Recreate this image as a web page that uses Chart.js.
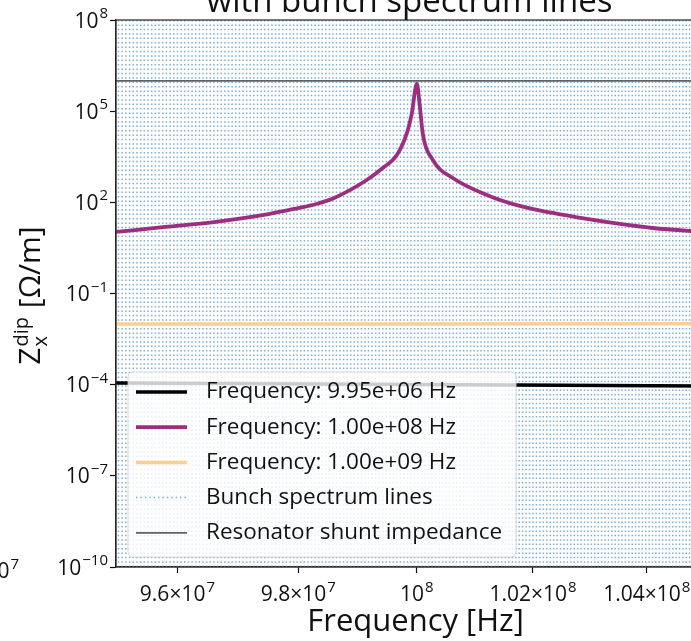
<!DOCTYPE html>
<html>
<head>
<meta charset="utf-8">
<script src="https://cdn.jsdelivr.net/npm/chart.js@4.4.0/dist/chart.umd.min.js"></script>
<style>
  html, body { margin: 0; padding: 0; background: #fff; overflow: hidden; }
  #wrap { position: relative; width: 720px; height: 641px; }
</style>
</head>
<body>
<div id="wrap"><canvas id="chart"></canvas></div>
<script>
// axis limits and ticks
const xMin = 9.5e7;
const xMax = 1.05e8;
const yMin = 1e-10;
const yMax = 1e8;
const xTickValues = [9.6e7, 9.8e7, 1e8, 1.02e8, 1.04e8];
const xTickMantissa = ['9.6×10', '9.8×10', '10', '1.02×10', '1.04×10'];
const xTickExponent = ['7', '7', '8', '8', '8'];
const yTickValues = [1e-10, 1e-7, 1e-4, 1e-1, 1e2, 1e5, 1e8];
const yTickExponent = ['−10', '−7', '−4', '−1', '2', '5', '8'];

// resonator at 9.95e+06 Hz (black)
const lowFreqX = [9.5e7, 9.75e7, 1.0e8, 1.025e8, 1.05e8];
const lowFreqZ = [1.13e-4, 1.07e-4, 1.01e-4, 9.5e-5, 9.0e-5];

// resonator at 1.00e+08 Hz (magenta)
const midFreqX = [9.50e7, 9.58e7, 9.66e7, 9.75e7, 9.80e7, 9.83e7, 9.86e7, 9.915e7, 9.942e7, 9.966e7,
  9.983e7, 9.9915e7, 1.0e8, 1.0005e8, 1.001e8, 1.00273e8, 1.00615e8, 1.012e8, 1.0177e8, 1.02345e8,
  1.0294e8, 1.0352e8, 1.041e8, 1.0478e8, 1.05e8];
const midFreqZ = [10.6, 15.5, 22.5, 41, 65, 88, 139, 543, 1350, 3600,
  19000, 87000, 800000, 150000, 19000, 2470, 632, 175, 76, 44.6,
  28.3, 19.4, 14.3, 11.4, 10.8];

// resonator at 1.00e+09 Hz (light orange)
const highFreqX = [9.5e7, 1.0e8, 1.05e8];
const highFreqZ = [9.9e-3, 1.0e-2, 1.02e-2];

// shunt impedance level
const shuntX = [xMin, xMax];
const shuntZ = [1e6, 1e6];

// bunch spectrum comb spacing [Hz]
const bunchSpacing = 6.0e4;
const bunchColor = '#7fafd2';

const fontFamily = '"Open Sans", "Noto Sans", sans-serif';
const textColor = '#111';

function pts(xs, ys) {
  return xs.map((x, i) => ({ x: x, y: ys[i] }));
}

// draws base + raised exponent, like 10^8
function drawPow(ctx, base, exp, x, y, align, size) {
  const bigF = size + 'px ' + fontFamily;
  const smallF = Math.round(size * 0.72) + 'px ' + fontFamily;
  ctx.font = bigF;
  const wb = ctx.measureText(base).width;
  ctx.font = smallF;
  const we = ctx.measureText(exp).width;
  const total = wb + we + 1;
  let x0 = x;
  if (align === 'right') x0 = x - total;
  if (align === 'center') x0 = x - total / 2;
  ctx.textAlign = 'left';
  ctx.textBaseline = 'alphabetic';
  ctx.font = bigF;
  ctx.fillText(base, x0, y);
  ctx.font = smallF;
  ctx.fillText(exp, x0 + wb + 1, y - size * 0.45);
}

const bunchLines = {
  id: 'bunchLines',
  beforeDatasetsDraw(chart) {
    const { ctx, chartArea } = chart;
    const xs = chart.scales.x;
    ctx.save();
    ctx.beginPath();
    ctx.rect(chartArea.left, chartArea.top, chartArea.right - chartArea.left, chartArea.bottom - chartArea.top);
    ctx.clip();
    ctx.strokeStyle = bunchColor;
    ctx.lineWidth = 1.5;
    ctx.setLineDash([1.5, 2.9]);
    for (let n = Math.ceil(xMin / bunchSpacing); n * bunchSpacing <= xMax; n++) {
      const px = xs.getPixelForValue(n * bunchSpacing);
      ctx.beginPath();
      ctx.moveTo(px, chartArea.top);
      ctx.lineTo(px, chartArea.bottom);
      ctx.stroke();
    }
    ctx.restore();
  }
};

const decorations = {
  id: 'decorations',
  afterDraw(chart) {
    const { ctx, chartArea } = chart;
    const xs = chart.scales.x, ys = chart.scales.y;
    ctx.save();
    // frame
    ctx.strokeStyle = '#333';
    ctx.lineWidth = 1.3;
    ctx.strokeRect(chartArea.left, chartArea.top, chartArea.right - chartArea.left, chartArea.bottom - chartArea.top);

    ctx.fillStyle = textColor;
    // tick labels
    yTickValues.forEach((v, i) => {
      drawPow(ctx, '10', yTickExponent[i], chartArea.left - 8, ys.getPixelForValue(v) + 7.5, 'right', 21);
    });
    xTickValues.forEach((v, i) => {
      drawPow(ctx, xTickMantissa[i], xTickExponent[i], xs.getPixelForValue(v), chartArea.bottom + 34, 'center', 21);
    });
    // neighbouring panel tick label cut by the picture edge
    drawPow(ctx, '10', '7', 19, chartArea.bottom + 11, 'right', 21);

    // x axis title
    ctx.font = '31px ' + fontFamily;
    ctx.textAlign = 'center';
    ctx.textBaseline = 'alphabetic';
    ctx.fillText('Frequency [Hz]', (chartArea.left + chartArea.right) / 2 + 6, 631);

    // title (upper line is outside the picture)
    ctx.font = '33px ' + fontFamily;
    ctx.fillText('with bunch spectrum lines', (chartArea.left + chartArea.right) / 2, 12);

    // y axis title: Z_x^dip [Ω/m]
    ctx.translate(40, (chartArea.top + chartArea.bottom) / 2 + 2);
    ctx.rotate(-Math.PI / 2);
    ctx.textAlign = 'left';
    const big = '30px ' + fontFamily, small = '20px ' + fontFamily;
    ctx.font = big;
    const wZ = ctx.measureText('Z').width;
    const wTail = ctx.measureText(' [Ω/m]').width;
    ctx.font = small;
    const wSup = ctx.measureText('dip').width;
    const total = wZ + wSup + 2 + wTail;
    const x0 = -total / 2;
    ctx.font = big;
    ctx.fillText('Z', x0, 0);
    ctx.font = small;
    ctx.fillText('dip', x0 + wZ + 1, -12);
    ctx.fillText('x', x0 + wZ + 1, 7);
    ctx.font = big;
    ctx.fillText(' [Ω/m]', x0 + wZ + wSup + 2, 0);
    ctx.restore();

    drawLegend(chart);
  }
};

function drawLegend(chart) {
  const { ctx, chartArea } = chart;
  const ds = chart.data.datasets;
  const items = [
    { label: ds[0].label, color: ds[0].borderColor, width: ds[0].borderWidth, dash: [] },
    { label: ds[1].label, color: ds[1].borderColor, width: ds[1].borderWidth, dash: [] },
    { label: ds[2].label, color: ds[2].borderColor, width: ds[2].borderWidth, dash: [] },
    { label: 'Bunch spectrum lines', color: bunchColor, width: 1.5, dash: [1.5, 2.9] },
    { label: ds[3].label, color: ds[3].borderColor, width: ds[3].borderWidth, dash: [] }
  ];
  ctx.save();
  ctx.font = '22.5px ' + fontFamily;
  const textW = Math.max(...items.map(it => ctx.measureText(it.label).width));
  const rowH = 35.2;
  const left = chartArea.left + 12;
  const h = 185;
  const top = chartArea.bottom - 10 - h;
  const w = 78 + textW + 14;
  ctx.beginPath();
  ctx.roundRect(left, top, w, h, 5);
  ctx.fillStyle = 'rgba(255,255,255,0.8)';
  ctx.fill();
  ctx.strokeStyle = 'rgba(204,204,204,0.8)';
  ctx.lineWidth = 1;
  ctx.stroke();
  items.forEach((it, i) => {
    const cy = top + 20 + i * rowH;
    ctx.beginPath();
    ctx.setLineDash(it.dash);
    ctx.strokeStyle = it.color;
    ctx.lineWidth = it.width;
    ctx.moveTo(left + 8, cy);
    ctx.lineTo(left + 59, cy);
    ctx.stroke();
    ctx.setLineDash([]);
    ctx.fillStyle = textColor;
    ctx.textAlign = 'left';
    ctx.textBaseline = 'middle';
    ctx.fillText(it.label, left + 78, cy);
  });
  ctx.restore();
}

new Chart(document.getElementById('chart'), {
  type: 'line',
  data: {
    datasets: [
      { label: 'Frequency: 9.95e+06 Hz', data: pts(lowFreqX, lowFreqZ), borderColor: '#000004', borderWidth: 3.5 },
      { label: 'Frequency: 1.00e+08 Hz', data: pts(midFreqX, midFreqZ), borderColor: '#9c2e7f', borderWidth: 3.8,
        cubicInterpolationMode: 'monotone' },
      { label: 'Frequency: 1.00e+09 Hz', data: pts(highFreqX, highFreqZ), borderColor: '#fdce92', borderWidth: 3.5 },
      { label: 'Resonator shunt impedance', data: pts(shuntX, shuntZ), borderColor: '#626262', borderWidth: 1.8 }
    ]
  },
  options: {
    responsive: true,
    maintainAspectRatio: false,
    animation: false,
    events: [],
    layout: { padding: { top: 20, right: 17, bottom: 0, left: 0 } },
    elements: {
      point: { radius: 0 },
      line: { tension: 0, borderJoinStyle: 'round', borderCapStyle: 'butt' }
    },
    plugins: {
      legend: { display: false },
      tooltip: { enabled: false },
      title: { display: false }
    },
    scales: {
      x: {
        type: 'logarithmic',
        min: xMin,
        max: xMax,
        afterBuildTicks: s => { s.ticks = xTickValues.map(v => ({ value: v })); },
        afterFit: s => { s.height = 74; },
        ticks: { display: false, autoSkip: false },
        grid: { drawOnChartArea: false, tickLength: 6, tickColor: textColor, tickWidth: 1.2 },
        border: { color: textColor, width: 1.2 }
      },
      y: {
        type: 'logarithmic',
        min: yMin,
        max: yMax,
        afterBuildTicks: s => { s.ticks = yTickValues.map(v => ({ value: v })); },
        afterFit: s => { s.width = 116; },
        ticks: { display: false, autoSkip: false },
        grid: { drawOnChartArea: false, tickLength: 6, tickColor: textColor, tickWidth: 1.2 },
        border: { color: textColor, width: 1.2 }
      }
    }
  },
  plugins: [bunchLines, decorations]
});
</script>
</body>
</html>
